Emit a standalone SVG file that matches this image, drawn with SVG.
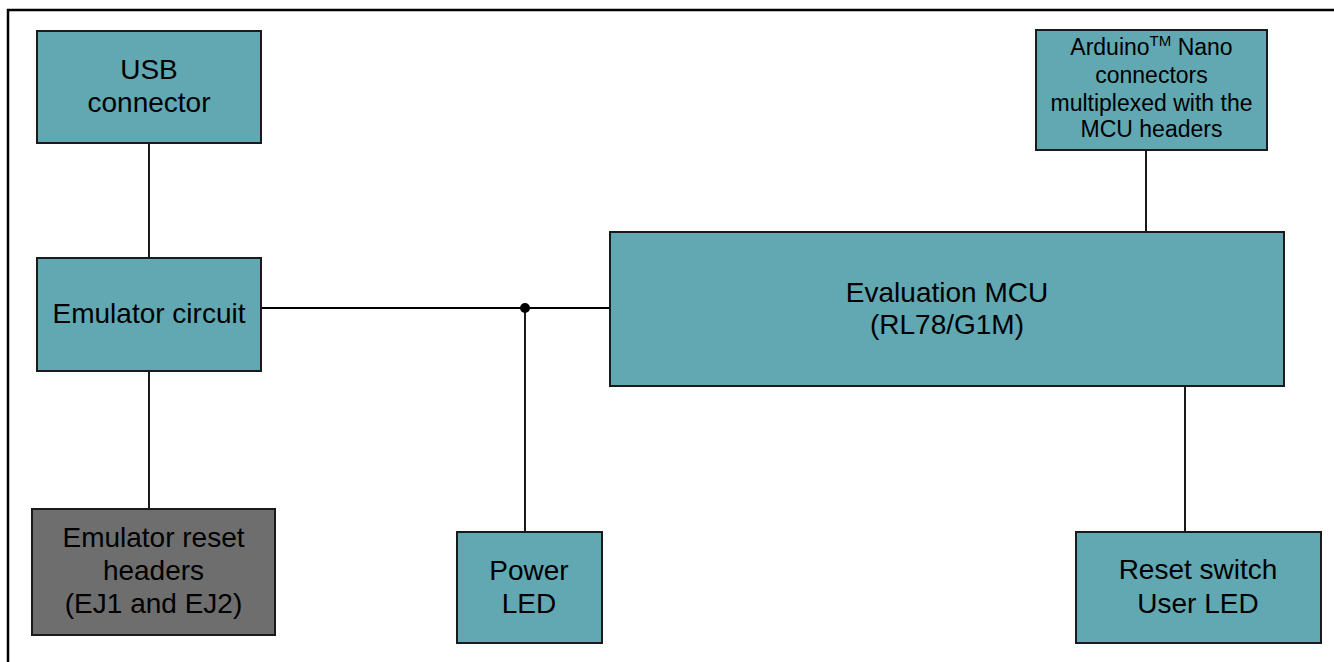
<svg xmlns="http://www.w3.org/2000/svg" width="1334" height="662" viewBox="0 0 1334 662">
<style>
.box{fill:#61a8b3;stroke:#1a1a1a;stroke-width:2}
.gray{fill:#6e6e6e;stroke:#1a1a1a;stroke-width:2}
.t{font-family:"Liberation Sans",Arial,sans-serif;font-size:28px;fill:#000;text-anchor:middle}
.s{font-family:"Liberation Sans",Arial,sans-serif;font-size:23px;fill:#000;text-anchor:middle}
.c{stroke:#000;stroke-width:1.8;fill:none}
</style>
<rect width="1334" height="662" fill="#fff"/>
<path d="M8 662 V10 H1334" fill="none" stroke="#000" stroke-width="2.5"/>
<g id="connectors">
<line class="c" x1="149" y1="143" x2="149" y2="258"/>
<line class="c" x1="149" y1="371" x2="149" y2="509"/>
<line class="c" x1="261" y1="308" x2="610" y2="308"/>
<line class="c" x1="525" y1="308" x2="525" y2="532"/>
<circle cx="525" cy="308" r="5" fill="#000"/>
<line class="c" x1="1146" y1="150" x2="1146" y2="232"/>
<line class="c" x1="1185" y1="386" x2="1185" y2="532"/>
</g>
<g id="usb">
<rect class="box" x="37" y="31" width="224" height="112"/>
<text class="t" x="149" y="79">USB</text>
<text class="t" x="149" y="112">connector</text>
</g>
<g id="emulator">
<rect class="box" x="37" y="258" width="224" height="113"/>
<text class="t" x="149" y="323">Emulator circuit</text>
</g>
<g id="emureset">
<rect class="gray" x="32" y="509" width="243" height="126"/>
<text class="t" x="153.5" y="547">Emulator reset</text>
<text class="t" x="153.5" y="580">headers</text>
<text class="t" x="153.5" y="613">(EJ1 and EJ2)</text>
</g>
<g id="powerled">
<rect class="box" x="457" y="532" width="145" height="111"/>
<text class="t" x="529" y="580">Power</text>
<text class="t" x="529" y="613">LED</text>
</g>
<g id="mcu">
<rect class="box" x="610" y="232" width="674" height="154"/>
<text class="t" x="947" y="302">Evaluation MCU</text>
<text class="t" x="947" y="334">(RL78/G1M)</text>
</g>
<g id="arduino">
<rect class="box" x="1036" y="30" width="231" height="120"/>
<text class="s" x="1151.5" y="55">Arduino<tspan font-size="15" dy="-9">TM</tspan><tspan dy="9"> Nano</tspan></text>
<text class="s" x="1151.5" y="83">connectors</text>
<text class="s" x="1151.5" y="111">multiplexed with the</text>
<text class="s" x="1151.5" y="137">MCU headers</text>
</g>
<g id="resetsw">
<rect class="box" x="1076" y="532" width="245" height="111"/>
<text class="t" x="1198" y="579">Reset switch</text>
<text class="t" x="1198" y="613">User LED</text>
</g>
</svg>
